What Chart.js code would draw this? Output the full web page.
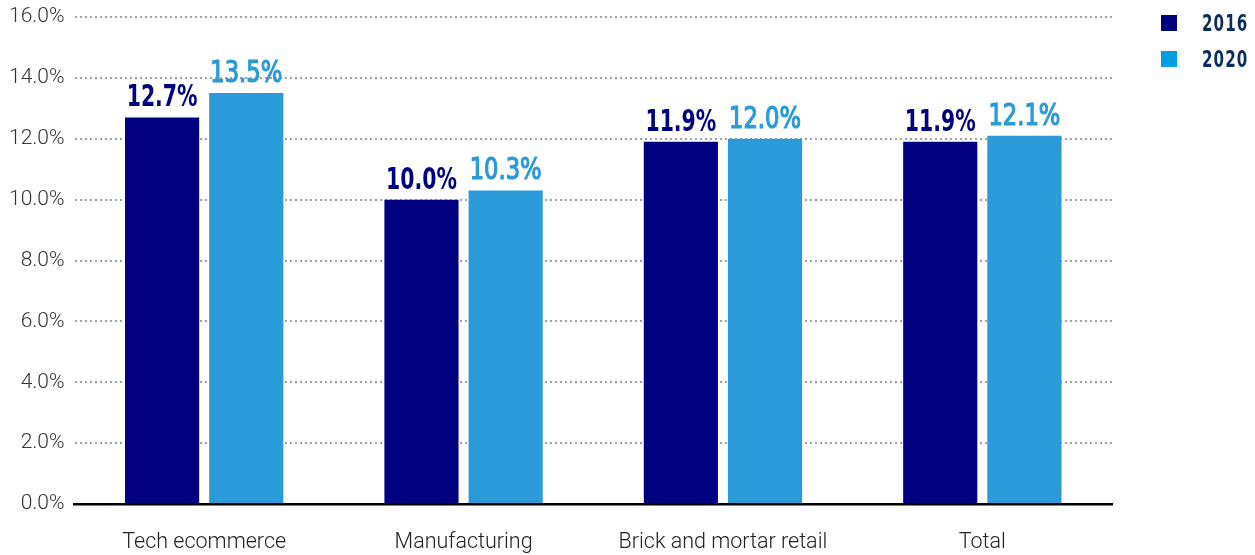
<!DOCTYPE html>
<html><head><meta charset="utf-8">
<script src="https://cdn.jsdelivr.net/npm/chart.js@4.4.1/dist/chart.umd.min.js"></script>
<style>
html,body{margin:0;padding:0;background:#fff;overflow:hidden;}
#wrap{position:relative;width:1255px;height:555px;overflow:hidden;}
#legend{position:absolute;left:1161px;top:15px;width:94px;font-family:"DejaVu Sans Condensed","DejaVu Sans",sans-serif;font-weight:bold;font-size:23px;color:#0d2d5e;letter-spacing:1.5px;white-space:nowrap;}
.li{display:flex;align-items:center;height:16px;margin-bottom:20px;}
.sw{width:16px;height:16px;margin-right:25px;flex:none;}
.li span{display:inline-block;transform:scaleX(0.73);transform-origin:left center;}
</style></head><body>
<div id="wrap"><canvas id="c" width="1255" height="555"></canvas>
<div id="legend"></div></div>
<script>
const categories = ["Tech ecommerce","Manufacturing","Brick and mortar retail","Total"];
const seriesNames = ["2016","2020"];
const values2016 = [12.7, 10.0, 11.9, 11.9];
const values2020 = [13.5, 10.3, 12.0, 12.1];
const barColors = ["#000080","#2A9AD8"];
const legendColors = ["#000080","#009FE3"];
const labelWeights = ["bold","normal"];
const labelScale = [0.757, 0.84];

const lg = document.getElementById('legend');
seriesNames.forEach((n,i)=>{
  const d=document.createElement('div');d.className='li';
  const s=document.createElement('div');s.className='sw';s.style.background=legendColors[i];
  const t=document.createElement('span');t.textContent=n;
  d.appendChild(s);d.appendChild(t);lg.appendChild(d);
});

const labelPlugin = {
  id:'barLabels',
  afterDatasetsDraw(chart){
    const ctx=chart.ctx;
    chart.data.datasets.forEach((ds,di)=>{
      chart.getDatasetMeta(di).data.forEach((el,i)=>{
        ctx.save();
        ctx.font=labelWeights[di]+' 30px "DejaVu Sans Condensed","DejaVu Sans",sans-serif';
        ctx.textAlign='center';ctx.textBaseline='alphabetic';
        ctx.fillStyle=barColors[di];
        ctx.strokeStyle=barColors[di];
        ctx.lineWidth=1.2;
        ctx.translate(el.x, el.y-11);
        ctx.scale(labelScale[di],1);
        const txt=ds.data[i].toFixed(1)+'%';
        ctx.fillText(txt, 0, 0);
        if(di===1) ctx.strokeText(txt,0,0);
        ctx.restore();
      });
    });
  }
};

new Chart(document.getElementById('c'),{
  type:'bar',
  data:{labels:categories,datasets:[
    {label:seriesNames[0],data:values2016,backgroundColor:barColors[0],barPercentage:0.881,categoryPercentage:0.649},
    {label:seriesNames[1],data:values2020,backgroundColor:barColors[1],barPercentage:0.881,categoryPercentage:0.649}
  ]},
  options:{
    responsive:false,animation:false,
    layout:{padding:{top:17,right:143,left:0,bottom:0}},
    plugins:{legend:{display:false},tooltip:{enabled:false}},
    scales:{
      y:{min:0,max:16,
        afterFit(s){s.width=74.5;s.paddingTop=0;s.paddingBottom=0;},
        ticks:{stepSize:2,padding:10,color:'#333',font:{family:'Roboto',size:21,weight:'300'},callback:v=>v.toFixed(1)+'%'},
        grid:{drawTicks:false,color:ctx=>ctx.tick.value===0?'rgba(0,0,0,0)':'#a0a0a0',lineWidth:2},
        border:{display:false,dash:[2,3]}
      },
      x:{
        afterFit(s){s.height=51;s.paddingLeft=0;s.paddingRight=0;},
        ticks:{padding:18,color:'#222',font:{family:'Roboto',size:21.5,weight:'300'}},
        grid:{display:false},
        border:{display:true,color:'#000',width:2.5}
      }
    }
  },
  plugins:[labelPlugin]
});
</script></body></html>
